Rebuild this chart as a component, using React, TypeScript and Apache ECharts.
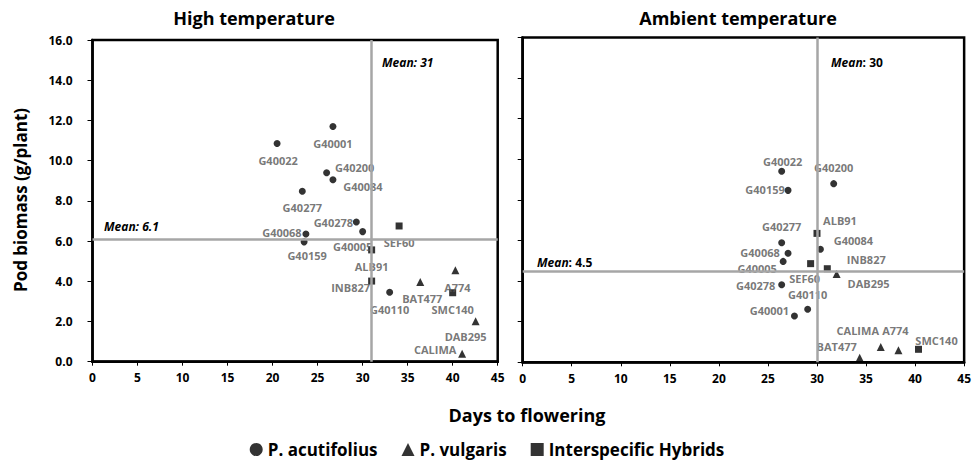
import React, { useEffect, useRef } from "react";
import * as echarts from "echarts";

// ---------- DATA ----------
const acutifoliusNames = ["G40001", "G40022", "G40200", "G40084", "G40277", "G40278", "G40005", "G40068", "G40159", "G40110"];
const highAcutDays = [26.7, 20.5, 26.0, 26.7, 23.3, 29.3, 30.0, 23.7, 23.5, 33.0];
const highAcutBiomass = [11.7, 10.85, 9.4, 9.05, 8.48, 6.95, 6.47, 6.35, 5.96, 3.45];
const ambAcutDays = [27.7, 26.4, 31.7, 30.35, 26.4, 26.4, 26.55, 27.05, 27.05, 29.05];
const ambAcutBiomass = [2.28, 9.41, 8.8, 5.57, 5.89, 3.82, 4.97, 5.37, 8.47, 2.61];

const vulgarisNames = ["BAT477", "A774", "DAB295", "CALIMA"];
const highVulgDays = [36.4, 40.3, 42.55, 41.05];
const highVulgBiomass = [3.97, 4.55, 2.01, 0.4];
const ambVulgDays = [34.35, 38.3, 32.0, 36.5];
const ambVulgBiomass = [0.23, 0.59, 4.35, 0.75];

const hybridNames = ["SEF60", "ALB91", "INB827", "SMC140"];
const highHybDays = [34.05, 31.0, 31.0, 40.0];
const highHybBiomass = [6.75, 5.56, 4.01, 3.43];
const ambHybDays = [29.35, 30.0, 31.05, 40.35];
const ambHybBiomass = [4.86, 6.35, 4.61, 0.64];

const highMeanDays = 31;
const highMeanBiomass = 6.1;
const ambMeanDays = 30;
const ambMeanBiomass = 4.5;

const seriesNames = ["P. acutifolius", "P. vulgaris", "Interspecific Hybrids"];
const panelTitles = ["High temperature", "Ambient temperature"];
const xTitle = "Days to flowering";
const yTitle = "Pod biomass (g/plant)";

// ---------- LABEL PLACEMENT (style) ----------
const highLabelOffsets: Record<string, [number, number]> = {
  G40001: [0, 17], G40022: [1, 17], G40200: [28, -5], G40084: [30, 7], G40277: [0, 16],
  G40278: [-23, 1], G40005: [-10, 15], G40068: [-24, -2], G40159: [3, 14], G40110: [0, 17],
  BAT477: [2, 17], A774: [2, 17], DAB295: [-10, 15], CALIMA: [-27, -4],
  SEF60: [0, 17], ALB91: [0, 17], INB827: [-21, 6], SMC140: [0, 17],
};
const ambLabelOffsets: Record<string, [number, number]> = {
  G40001: [-25, -6], G40022: [1, -10], G40200: [0, -16], G40084: [33, -9], G40277: [0, -16],
  G40278: [-26, 1], G40005: [-26, 7], G40068: [-28, -1], G40159: [-23, -1], G40110: [0, -15],
  BAT477: [-23, -11], A774: [-3, -20], DAB295: [32, 10], CALIMA: [-23, -17],
  SEF60: [-6, 15], ALB91: [23, -13], INB827: [39, -9], SMC140: [18, -9],
};

const FONT = "'Open Sans', 'Liberation Sans', sans-serif";

function points(names: string[], xs: number[], ys: number[], offsets: Record<string, [number, number]>) {
  return names.map((n, i) => ({
    name: n,
    value: [xs[i], ys[i]],
    label: { offset: offsets[n] || [0, 0] },
  }));
}

const labelStyle = {
  show: true,
  position: "inside",
  formatter: (p: any) => p.name,
  color: "#555555",
  fontFamily: FONT,
  fontWeight: "bold",
  fontSize: 11,
  align: "center",
  verticalAlign: "middle",
};

export default function App() {
  const ref = useRef<HTMLDivElement>(null);
  useEffect(() => {
    document.body.style.margin = "0";
    const chart = echarts.init(ref.current!, null, { renderer: "svg" });

    const grids = [
      { left: 92.5, top: 40, width: 405.2, height: 321.7 },
      { left: 522.7, top: 37.5, width: 442.3, height: 324.8 },
    ].map((g) => ({ ...g, show: true, borderColor: "#000", borderWidth: 2.5, backgroundColor: "transparent" }));

    const xAxes = [0, 1].map((i) => ({
      type: "value",
      gridIndex: i,
      min: 0,
      max: 45,
      interval: 5,
      splitLine: { show: false },
      axisLine: { show: true, lineStyle: { color: "#000", width: 2.5 } },
      axisTick: { show: true, length: 4, inside: false, lineStyle: { color: "#000", width: 1 } },
      axisLabel: { color: "#000", fontFamily: FONT, fontWeight: "bold", fontSize: 12, margin: 10 },
    }));
    const yAxes = [0, 1].map((i) => ({
      type: "value",
      gridIndex: i,
      min: 0,
      max: 16,
      interval: 2,
      splitLine: { show: false },
      axisLine: { show: true, lineStyle: { color: "#000", width: 2.5 } },
      axisTick: { show: true, length: 5, inside: false, lineStyle: { color: "#000", width: 1 } },
      axisLabel: {
        show: i === 0,
        color: "#000",
        fontFamily: FONT,
        fontWeight: "bold",
        fontSize: 12,
        margin: 20,
        formatter: (v: number) => v.toFixed(1),
      },
    }));

    const meanLine = (idx: number, mx: number, my: number) => ({
      type: "scatter",
      name: "mean" + idx,
      xAxisIndex: idx,
      yAxisIndex: idx,
      data: [],
      z: 1,
      silent: true,
      markLine: {
        silent: true,
        symbol: "none",
        animation: false,
        label: { show: false },
        lineStyle: { color: "#A6A6A6", width: 2.5, type: "solid" },
        data: [{ xAxis: mx }, { yAxis: my }],
      },
    });

    const panel = (
      idx: number,
      acx: number[], acy: number[], vx: number[], vy: number[], hx: number[], hy: number[],
      offs: Record<string, [number, number]>
    ) => [
      {
        type: "scatter", name: seriesNames[0], xAxisIndex: idx, yAxisIndex: idx, z: 3,
        symbol: "circle", symbolSize: 7, itemStyle: { color: "#000" }, label: labelStyle,
        data: points(acutifoliusNames, acx, acy, offs),
      },
      {
        type: "scatter", name: seriesNames[1], xAxisIndex: idx, yAxisIndex: idx, z: 3,
        symbol: "triangle", symbolSize: 8, itemStyle: { color: "#000" }, label: labelStyle,
        data: points(vulgarisNames, vx, vy, offs),
      },
      {
        type: "scatter", name: seriesNames[2], xAxisIndex: idx, yAxisIndex: idx, z: 3,
        symbol: "rect", symbolSize: 7, itemStyle: { color: "#000" }, label: labelStyle,
        data: points(hybridNames, hx, hy, offs),
      },
    ];

    const meanRich = {
      i: { fontFamily: FONT, fontStyle: "italic", fontWeight: "bold", fontSize: 12, fill: "#000" },
      n: { fontFamily: FONT, fontWeight: "bold", fontSize: 12, fill: "#000" },
    };

    const option: any = {
      animation: false,
      backgroundColor: "#fff",
      grid: grids,
      xAxis: xAxes,
      yAxis: yAxes,
      legend: {
        data: [
          { name: seriesNames[0], icon: "circle" },
          { name: seriesNames[1], icon: "triangle" },
          { name: seriesNames[2], icon: "rect" },
        ],
        bottom: 3,
        left: "center",
        itemWidth: 13,
        itemHeight: 13,
        itemGap: 24,
        selectedMode: false,
        textStyle: { color: "#000", fontFamily: FONT, fontWeight: "bold", fontSize: 17 },
      },
      graphic: [
        {
          type: "text", x: 254, y: 18,
          style: { text: panelTitles[0], font: `bold 18px ${FONT}`, fill: "#000", align: "center", verticalAlign: "middle" },
        },
        {
          type: "text", x: 738, y: 18,
          style: { text: panelTitles[1], font: `bold 18px ${FONT}`, fill: "#000", align: "center", verticalAlign: "middle" },
        },
        {
          type: "text", x: 527, y: 415,
          style: { text: xTitle, font: `bold 18px ${FONT}`, fill: "#000", align: "center", verticalAlign: "middle" },
        },
        {
          type: "text", x: 20, y: 200, rotation: Math.PI / 2,
          style: { text: yTitle, font: `bold 17px ${FONT}`, fill: "#000", align: "center", verticalAlign: "middle" },
        },
        {
          type: "text", x: 382, y: 62,
          style: { text: `Mean: ${highMeanDays}`, font: `italic bold 12px ${FONT}`, fill: "#000", verticalAlign: "middle" },
        },
        {
          type: "text", x: 104, y: 226,
          style: { text: `Mean: ${highMeanBiomass}`, font: `italic bold 12px ${FONT}`, fill: "#000", verticalAlign: "middle" },
        },
        {
          type: "text", x: 831, y: 62,
          style: { text: `{i|Mean}{n|: ${ambMeanDays}}`, verticalAlign: "middle", rich: meanRich },
        },
        {
          type: "text", x: 537, y: 262,
          style: { text: `{i|Mean}{n|: ${ambMeanBiomass}}`, verticalAlign: "middle", rich: meanRich },
        },
      ],
      series: [
        meanLine(0, highMeanDays, highMeanBiomass),
        meanLine(1, ambMeanDays, ambMeanBiomass),
        ...panel(0, highAcutDays, highAcutBiomass, highVulgDays, highVulgBiomass, highHybDays, highHybBiomass, highLabelOffsets),
        ...panel(1, ambAcutDays, ambAcutBiomass, ambVulgDays, ambVulgBiomass, ambHybDays, ambHybBiomass, ambLabelOffsets),
      ],
    };
    chart.setOption(option);
    return () => chart.dispose();
  }, []);
  return <div ref={ref} style={{ width: 974, height: 466 }} />;
}
